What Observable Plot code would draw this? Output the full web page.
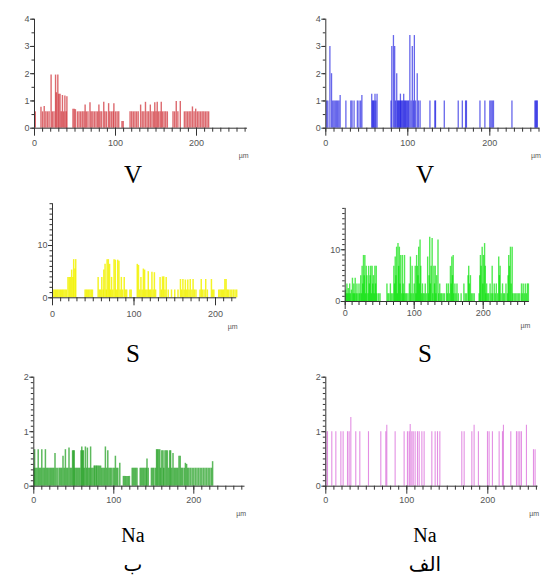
<!DOCTYPE html>
<html><head><meta charset="utf-8">
<script src="https://cdn.jsdelivr.net/npm/d3@7"></script>
<script src="https://cdn.jsdelivr.net/npm/@observablehq/plot@0.6"></script>
<style>
html,body{margin:0;padding:0;background:#fff;}
#wrap{position:relative;width:544px;height:578px;overflow:hidden;background:#fff;}
#wrap svg{position:absolute;overflow:visible;}
</style></head><body><div id="wrap"></div>
<script>
// ---- data: [position µm, counts] ----
// ب (left column)
const vLeft = [[1,0.6],[8,0.77],[10,0.6],[12,0.8],[14,0.6],[16,0.6],[18,0.6],[20.5,1.95],[22,0.6],[24,0.6],[26,1.95],[27,1.3],[28.8,1.95],[30,1.25],[31.5,1.25],[33,0.6],[34.5,1.2],[36,0.6],[37.5,1.18],[39,0.6],[40,1.15],
[47.5,0.7],[49,0.7],[50.5,0.68],[53,0.6],[55,0.6],[57,0.6],[59,0.6],[61,0.6],[62.5,0.85],[64,0.6],[66,0.6],[68.5,0.93],[70,0.6],[72,0.6],[74,0.6],[76,0.6],[78,0.6],[79.5,0.85],[81,0.6],[83,0.6],[85.5,0.95],[87,0.6],[89,0.6],[91.5,0.9],[93,0.6],[95,0.6],[97,0.6],[98,0.9],[100,0.6],[102,0.6],[104,0.6],
[108,0.25],[109.5,0.25],
[118,0.6],[120,0.6],[122,0.6],[124,0.6],[126,0.6],[128,0.6],[131,0.85],[133,0.6],[135,0.6],[137,0.95],[139,0.6],[141,0.6],[143,0.85],[145,0.6],[147,0.6],[148.5,0.93],[150,0.6],[151.5,0.95],[153,0.6],[155,0.6],[156.5,0.95],[158,0.6],[160,0.6],[162,0.6],[164,0.6],
[171,0.6],[173,0.6],[175,0.98],[177,0.6],[180,0.98],[185,0.6],[187,0.6],[189,0.6],[191,0.6],[193,0.6],[195,0.78],[197,0.6],[199,0.7],[201,0.6],[203,0.6],[205,0.6],[207,0.6],[209,0.6],[211,0.6],[213,0.6],[215,0.6]];
const sLeft = [[0.5,1.5],[2,1.5],[3.5,1.5],[5,1.5],[6.5,1.5],[8,1.5],[9.5,1.5],[11,1.5],[12.5,1.5],[14,1.5],[15.5,1.5],[17,1.5],
[19,3.9],[20.5,3.9],[22,3.9],[23.5,5.3],[25,3.9],[26,7.3],[27.5,5.5],[28.5,7.3],
[40,1.5],[41.5,1.5],[43,1.5],[44.5,1.5],[46,1.5],[47.5,1.5],[49,1.5],
[56,3.9],[57.5,1.5],[59,1.5],[60.5,3.9],[62,1.5],[63,5.3],[64.5,6.4],[66,1.5],[67,7.3],[68.5,7.3],[70,6.4],[71,1.5],[72.5,3.9],[74,1.5],[75.5,7.3],[77,7.2],[78.5,1.5],[80,7.2],[81.5,7.0],[83,1.5],[84.5,3.9],[86,1.5],[88,3.9],[89.5,1.5],[91,1.5],[95,1.5],[96.5,1.5],
[104,6.4],[105.5,6.2],[107,1.5],[108.5,3.9],[110,1.5],[111.5,5.5],[113,5.3],[114.5,1.5],[116,1.5],[117.5,5.0],[119,1.5],[120.5,1.5],[122,4.9],[123.5,1.5],[125,4.8],[126.5,1.5],
[132,3.9],[133.5,1.5],[135,4.0],[136.5,4.0],[138,1.5],[139.5,3.9],[142,1.5],[146,1.5],[150,1.5],[154,1.5],
[157,3.5],[158.5,1.5],[160,3.5],[161.5,1.5],[163,3.4],[164.5,1.5],[166,3.4],[167.5,1.5],[169,3.5],[171,1.5],[172.5,3.5],[174,1.5],[176,1.5],[181,1.5],[182.5,3.5],[184,1.5],[186,1.5],[188,3.5],[190,1.5],[195,3.5],[196.5,1.5],[198,1.5],
[204,1.5],[205.5,1.5],[207,1.5],[208.5,1.5],[210,1.5],[211.5,3.5],[213,3.5],[214.5,1.5],[216,1.5],[218,1.5],[220,1.5],[222,1.5],[224,1.5],[226,1.5]];
const naLeft = [[0.5,0.33],[1,0.67],[2.5,0.33],[4,0.33],[5.5,0.67],[7,0.33],[8.5,0.33],[10,0.67],[11.5,0.33],[13,0.33],[14.5,0.67],[16,0.33],[17.5,0.33],[19,0.33],[20.5,0.33],[22,0.33],[23.5,0.33],[25,0.33],[26.5,0.6],[28,0.33],[30,0.33],[32,0.33],[33.5,0.33],[35,0.33],[36.5,0.55],[38,0.33],[39.5,0.67],[41,0.33],[42.5,0.33],[44,0.7],[45.5,0.33],[47,0.33],[48.5,0.65],[49.5,0.65],[50.5,0.65],[51.5,0.33],[53,0.33],[54.5,0.33],[56,0.33],[57.5,0.33],[59,0.65],[60,0.72],[61,0.65],[62,0.65],[63,0.33],[64.5,0.72],[66,0.33],[67,0.7],[68.5,0.33],[70,0.33],[71,0.72],[72.5,0.33],[74,0.33],[75.5,0.37],[76.5,0.37],[78,0.37],[79,0.37],[80.5,0.37],[82,0.37],[83.5,0.37],[85,0.33],[86.5,0.33],[88,0.33],[89.5,0.72],[91,0.33],[92.5,0.65],[94,0.33],[95.5,0.33],[97,0.33],[99,0.33],[100.5,0.33],[102,0.55],[103.5,0.33],[105,0.33],[107.5,0.42],
[112,0.18],[113.5,0.18],[115,0.18],[116.5,0.18],[118,0.18],[119.5,0.18],[123,0.33],[124.5,0.33],[126,0.33],[127.5,0.33],[129,0.33],[133,0.33],[134.5,0.33],[136,0.33],[137.5,0.33],[139,0.33],[140.5,0.33],[141.5,0.5],[143,0.33],[147,0.33],[148.5,0.33],[150,0.33],[152,0.33],[153.5,0.67],[154.5,0.67],[156,0.67],[157.5,0.67],[158.5,0.33],[160,0.65],[161.5,0.65],[162.5,0.33],[164,0.65],[165.5,0.65],[167,0.65],[168.5,0.33],[170,0.65],[171,0.65],[172.5,0.33],[174,0.6],[175.5,0.33],[177,0.33],[178.5,0.33],[180,0.33],[181.5,0.55],[183,0.55],[184.5,0.33],[186,0.33],[188,0.33],[189.5,0.42],[191,0.4],[192.5,0.33],[194,0.33],[196,0.33],[198,0.33],[200,0.33],[202,0.33],[204,0.33],[206,0.33],[208,0.33],[210,0.33],[212,0.33],[214,0.33],[216,0.33],[218,0.33],[220,0.33],[222,0.33],[223.5,0.45]];
// الف (right column)
const vRight = [[1,1.0],[2.5,1.0],[5,3.0],[7,2.0],[8.5,1.0],[10,1.0],[11.5,1.0],[13,1.0],[14.5,1.0],[16,1.0],[17.5,1.2],
[24.5,1.0],[30.5,1.0],[32,1.0],[34.5,1.0],[38.5,1.0],[40.5,1.0],[42.5,1.0],[44,1.2],
[56,1.25],[57,1.0],[58,1.0],[59,1.0],[60,1.25],[61,1.0],[62.5,1.25],
[79.5,1.0],[80.5,3.0],[82.5,3.4],[84,3.0],[85,1.0],[86.5,2.0],[87.5,1.0],[88.5,1.0],[89.5,1.0],[90.5,1.0],[91,1.25],[92,1.0],[93,1.0],[94,1.0],[95,1.25],[96,1.0],[97,1.0],[98,1.0],[99,1.0],[100,1.0],[101,1.0],[102.5,3.4],[104,1.0],[105.5,3.0],[107,1.0],[108,3.4],[109.5,1.0],[111.5,2.0],[113,1.0],[115,1.0],
[127,1.0],[133,1.0],[133.8,1.0],[144.5,1.0],[161.5,1.0],[166.5,1.0],[170.5,1.0],[171.5,1.0],[188,1.0],[194,1.0],[200,1.0],[201.5,1.0],[203,1.0],[204.5,1.0],[227,1.0],[255,1.0],[256,1.0],[257,1.0],[258,1.0]];
const sRight = [[0.5,2.2],[1.5,1.5],[2.5,3.4],[3.5,1.5],[4.5,2.5],[5.5,1.5],[6.5,3.4],[7.5,1.5],[9,2.2],[10.5,4.5],[11.5,1.5],[12.5,3.4],[13.5,1.5],[14.5,4.5],[16,1.5],[17,3.4],[18.5,1.5],[20,3.4],[21,1.5],[22.5,5.0],[23.5,1.5],[24.5,6.8],[25.5,3.4],[26.5,8.9],[27.5,5.0],[28.5,8.9],[29.5,1.5],[30.5,6.8],[31.5,5.0],[33,1.5],[34,6.8],[35,3.4],[36,5.0],[37,6.8],[38,1.5],[39,6.8],[40,3.4],[41,5.0],[42,1.5],[43,6.8],[44,3.4],[45,6.8],[46,1.5],[48.5,1.5],[50.5,1.5],
[60.5,3.4],[62,1.5],[63.5,1.5],[65.5,3.4],[67,1.5],[69,1.5],[70.5,6.8],[71.5,3.4],[72.5,8.6],[73.5,5.0],[74.5,10.5],[75.5,1.5],[76.5,11.2],[77.5,6.8],[78.5,10.5],[79.5,3.4],[80.5,8.9],[82,1.5],[83,8.9],[84,3.4],[85,1.5],[86,8.9],[87.5,1.5],[89,1.5],[91,1.5],[93,3.4],[94.5,8.6],[95.5,1.5],[97,6.8],[98.5,1.5],[100,3.4],[101.5,6.8],[102.5,1.5],[103.5,8.9],[104.5,6.8],[105.5,5.0],[106.5,10.5],[107.5,3.4],[108.5,11.9],[109.5,6.8],[110.5,1.5],[112,3.4],[113,1.5],[114.5,1.5],[116,3.4],[117.5,1.5],[119.5,8.6],[120.5,1.5],[121.5,5.0],[122.5,12.4],[123.5,3.4],[124.5,6.8],[126,12.2],[127,1.5],[128.5,6.8],[129.5,3.4],[130.5,6.8],[131.5,1.5],[132.5,5.0],[134.5,11.9],[135.5,1.5],[137,3.4],[138.5,1.5],[140,1.5],[142,1.5],[144,1.5],[147,3.4],[148,1.5],[149.5,3.4],[151,1.5],[152.5,6.8],[153.5,3.4],[154.5,8.6],[155.5,5.0],[156.5,8.9],[157.5,1.5],[159,3.4],[160.5,1.5],[162,3.4],[164,1.5],[168,1.5],[172,3.4],[174,1.5],[176,1.5],[178,5.0],[179,6.8],[180,3.4],[181.5,5.0],[183,1.5],[185,1.5],[187,1.5],[194,1.5],[195,5.0],[196,8.9],[197,6.8],[198.5,10.5],[199.5,3.4],[200.5,8.9],[202,11.2],[203,6.8],[204,1.5],[205,3.4],[206.5,1.5],[208,1.5],[210,3.4],[211.5,1.5],[213,6.8],[214,1.5],[216,3.4],[217.5,1.5],[219,3.4],[221,1.5],[222.5,8.6],[223.5,5.0],[224.5,6.8],[226,1.5],[228,3.4],[229.5,1.5],[231,1.5],[233,3.4],[235,1.5],[236,5.0],[237,8.9],[238,6.8],[239.5,10.5],[240.5,3.4],[242,10.5],[243,1.5],[245,1.5],[247,1.5],[249,1.5],[251,1.5],[253,1.5],[255.5,3.4],[256.5,1.5],[258,3.4],[259.5,1.5],[261,3.4],[262.5,1.5],[264,3.4],[265.5,3.4]];
const naRight = [[0,1.0],[2.1,1.0],[7.4,1.0],[12.4,1.0],[18.6,1.0],[21.4,1.0],[26.8,1.0],[28.8,1.0],[30.9,1.26],[37,1.0],[42,1.0],[52.7,1.0],[67.9,1.0],[74.1,1.0],[75.3,1.12],[85.6,1.0],[96.7,1.0],[100.8,1.0],[102.9,1.0],[104.2,1.13],[106.2,1.0],[107.9,1.0],[110.3,1.0],[113.2,1.0],[115.3,1.0],[118.6,1.0],[121.4,1.0],[130.9,1.0],[135,1.0],[137.9,1.0],[140.8,1.0],[167.9,1.0],[170.8,1.0],[180.3,1.0],[183.1,1.12],[188.4,1.0],[199.6,1.0],[201.6,1.0],[205.7,1.0],[214,1.0],[218.1,1.0],[219.3,1.12],[228.4,1.0],[235.4,1.0],[237.4,1.0],[239.5,1.0],[241.5,1.0],[247.7,1.12],[256.4,0.67],[258.4,0.67]];

const xTickLabels = [0, 100, 200];
const yTicksV = [0, 1, 2, 3, 4];
const yTicksS = [0, 10];
const yTicksNa = [0, 1, 2];
const elementLabels = ["V", "V", "S", "S", "Na", "Na"];
const columnLabels = ["ب", "الف"];
const unitLabel = "µm";

// ---- layout ----
const panels = [
  {data: vLeft,  color: "#cc2229", op: 0.68, sw: 1.4, left: 0,   top: 0,   W: 272, H: 165, ox: 34,    k: 0.81,  xmax: 263, base: 127.7, ytop: 18.7,  ymax: 4,  yt: yTicksV,  minor: 0.5, lab: 11.5, um: 28},
  {data: vRight, color: "#0000dd", op: 0.6,  sw: 1.3, left: 272, top: 0,   W: 272, H: 165, ox: 325.3, k: 0.82,  xmax: 261, base: 127.7, ytop: 18.7,  ymax: 4,  yt: yTicksV,  minor: 0.5, lab: 11.5, um: 28},
  {data: sLeft,  color: "#f2f200", op: 0.85, sw: 1.5, left: 0,   top: 190, W: 272, H: 140, ox: 52,    k: 0.815, xmax: 226, base: 297.3, ytop: 203.2, ymax: 18, yt: yTicksS,  minor: 1,   lab: 12.5, um: 29},
  {data: sRight, color: "#00e000", op: 0.68, sw: 1.4, left: 272, top: 190, W: 272, H: 140, ox: 344.7, k: 0.69,  xmax: 267, base: 301,   ytop: 207.9, ymax: 18, yt: yTicksS,  minor: 1,   lab: 8,    um: 24},
  {data: naLeft, color: "#1f9e1f", op: 0.72, sw: 1.5, left: 0,   top: 365, W: 272, H: 160, ox: 33.3,  k: 0.80,  xmax: 264, base: 485.7, ytop: 376.7, ymax: 2,  yt: yTicksNa, minor: 0.1, lab: 10,   um: 27.5},
  {data: naRight,color: "#cc33cc", op: 0.55, sw: 1.1, left: 272, top: 365, W: 272, H: 160, ox: 325.3, k: 0.81,  xmax: 262, base: 485.7, ytop: 376.7, ymax: 2,  yt: yTicksNa, minor: 0.1, lab: 10,   um: 27.5}
];

const wrap = document.getElementById("wrap");
const axisCol = "#333";
const textCol = "#555";
const sans = "'Liberation Sans', Arial, sans-serif";

panels.forEach(p => {
  const mL = p.ox - p.left;
  const mR = p.W - (mL + p.k * p.xmax);
  const mT = p.ytop - p.top;
  const mB = p.top + p.H - p.base;
  const nMinor = Math.round(p.ymax / p.minor);
  const yMinor = d3.range(0, nMinor + 1).map(i => +(i * p.minor).toFixed(3));
  const xMinor = d3.range(0, p.xmax + 0.01, 10);
  const chart = Plot.plot({
    width: p.W, height: p.H,
    marginLeft: mL, marginRight: mR, marginTop: mT, marginBottom: mB,
    style: {background: "transparent", fontFamily: sans, overflow: "visible"},
    x: {domain: [0, p.xmax], axis: null},
    y: {domain: [0, p.ymax], axis: null},
    marks: [
      Plot.ruleX(p.data, {x: d => d[0], y1: 0, y2: d => d[1], stroke: p.color, strokeOpacity: p.op, strokeWidth: p.sw}),
      Plot.ruleY([0], {stroke: axisCol}),
      Plot.ruleX([0], {stroke: axisCol}),
      Plot.axisX({ticks: xMinor, tickSize: 4, fill: "none", stroke: axisCol, label: null}),
      Plot.axisX({ticks: xTickLabels, tickSize: 8, fill: "none", stroke: axisCol, label: null}),
      Plot.axisX({ticks: xTickLabels, tickSize: 0, tickPadding: p.lab, tickFormat: d => String(d), fontSize: 9, fill: textCol, label: null}),
      Plot.axisY({ticks: yMinor, tickSize: 2.5, fill: "none", stroke: axisCol, label: null}),
      Plot.axisY({ticks: p.yt, tickSize: 4, tickPadding: 1, tickFormat: d => String(d), fontSize: 9, fill: textCol, stroke: axisCol, label: null}),
      Plot.text([unitLabel], {frameAnchor: "bottom-right", textAnchor: "end", lineAnchor: "middle", dy: p.um, dx: 1, fontSize: 7, fill: textCol})
    ]
  });
  chart.style.left = p.left + "px";
  chart.style.top = p.top + "px";
  wrap.appendChild(chart);
});

// element and column labels
const over = d3.create("svg").attr("width", 544).attr("height", 578).style("left", "0px").style("top", "0px");
const labelPos = [
  [133, 183, 25], [425, 183, 25],
  [133, 362, 25], [425, 362, 25],
  [133, 541.5, 20], [425, 541.5, 20]
];
elementLabels.forEach((t, i) => {
  over.append("text").attr("x", labelPos[i][0]).attr("y", labelPos[i][1])
    .attr("text-anchor", "middle").attr("font-family", "'Liberation Serif', 'Times New Roman', serif")
    .attr("font-size", labelPos[i][2]).attr("fill", "#000").text(t);
});
const colPos = [[133, 571], [425, 571]];
columnLabels.forEach((t, i) => {
  over.append("text").attr("x", colPos[i][0]).attr("y", colPos[i][1])
    .attr("text-anchor", "middle").attr("direction", "rtl")
    .attr("font-family", "'Liberation Serif', 'DejaVu Sans', serif")
    .attr("font-size", 20).attr("fill", "#000").text(t);
});
wrap.appendChild(over.node());
</script>
</body></html>
